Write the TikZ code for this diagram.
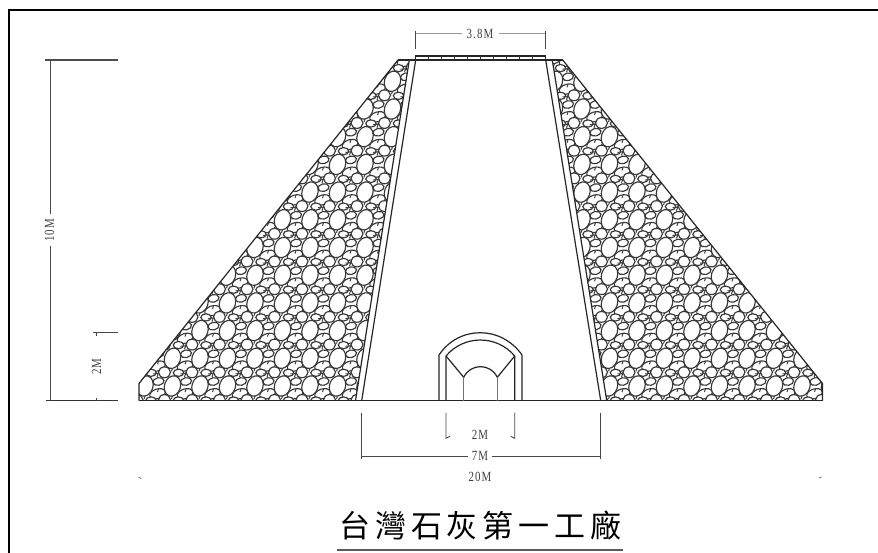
\documentclass[tikz,border=0pt]{standalone}
\usepackage{fontspec}
\newfontfamily\dimfont[FakeStretch=0.78,LetterSpace=8]{Liberation Serif}
\newfontfamily\cjkfont[LetterSpace=16]{Noto Sans CJK TC}
\tikzset{
  x=1pt,y=-1pt,
  wall/.style={line width=1.2pt,black!85},
  base/.style={line width=1.4pt,black!85},
  frameline/.style={line width=2pt,black},
  dimline/.style={line width=0.9pt,black!72},
  rock/.style={line width=1.15pt,black!78,fill=white},
  dimtext/.style={font=\dimfont\fontsize{14}{14}\selectfont,inner sep=0pt,text=black!75},
  pics/rocktile/.style={code={
    \draw[rock] (0,0) circle [x radius=8pt,y radius=10.4pt,rotate=-18];
    \draw[rock] (-8,14) circle [x radius=6pt,y radius=5.4pt];
    \draw[rock] (12.5,7.8) circle [x radius=8pt,y radius=4.8pt,rotate=18];
    \draw[rock] (13.5,-4.5) circle [x radius=5.6pt,y radius=3.8pt,rotate=12];
    \draw[rock] (6,14.5) circle [x radius=5.2pt,y radius=3.6pt];
    \draw[line width=1pt,black!75] (13.5,-13.5) -- (12,-9) (8,-12) -- (17,-13) (0,10) -- (-1,13) (-14,3) -- (-15,6);
  }}
}
\begin{document}
\begin{tikzpicture}
\useasboundingbox (0,0) rectangle (878,553);
\fill[white] (0,0) rectangle (878,553);
% frame
\draw[frameline] (8.5,553) -- (8.5,10.5) -- (878,10.5);
% rock fill, left
\begin{scope}
  \clip (139,400.5) -- (139,383.5) -- (398,60) -- (409.3,60) -- (355.5,400.5) -- cycle;
  \foreach \i in {0,...,25} \foreach \j in {-1,...,13}
    \pic at ({145+27.5*\i},{53.6+27.7*\j}) {rocktile};
\end{scope}
\draw[wall] (139,400.5) -- (139,383.5) -- (398,60);
% rock fill, right
\begin{scope}
  \clip (552.3,60) -- (562.7,60) -- (822.5,383.5) -- (822.5,400.5) -- (606.7,400.5) -- cycle;
  \foreach \i in {0,...,11} \foreach \j in {-1,...,13}
    \pic at ({527+27.5*\i},{53.6+27.7*\j}) {rocktile};
\end{scope}
\draw[wall] (562.7,60) -- (822.5,383.5) -- (822.5,400.5);
% core walls
\draw[wall] (409.3,60) -- (355.5,400.5);
\draw[wall] (415.7,60) -- (361.7,400.5);
\draw[wall] (552.3,60) -- (606.7,400.5);
\draw[wall] (545.7,60) -- (600.7,400.5);
% crest
\draw[base] (398,60) -- (562.7,60);
\draw[wall] (415.7,60) -- (415.7,56) -- (545.7,56) -- (545.7,60);
\foreach \k in {1,...,9}
  \draw[line width=0.8pt,black!80] ({415.7+13*\k},56) -- ({415.7+13*\k},60);
% base line
\draw[base] (139,400.5) -- (822.5,400.5);
% tunnel
\draw[wall] (439,400.5) -- (439,355) .. controls (458.7,325.3) and (501.3,325.3) .. (522,355) -- (522,400.5);
\draw[wall] (446,400.5) -- (446,356) .. controls (463.9,334.7) and (496.8,334.7) .. (514.7,356) -- (514.7,400.5);
\draw[wall] (446,356) -- (463.7,377.3) .. controls (470.4,363.1) and (490.6,363.1) .. (497.3,377.3) -- (514.7,356);
\draw[line width=1pt,black!55] (463.7,377.3) -- (463.7,400.5) (497.3,377.3) -- (497.3,400.5);
% dimension 3.8M
\node[dimtext] (topdim) at (480,33.5) {3.8M};
\coordinate (tl) at (415.7,33.5);
\coordinate (tr) at (545.3,33.5);
\draw[dimline] (415.7,30.7) -- (415.7,49.3) (545.3,30.7) -- (545.3,49.3);
\draw[line width=0.7pt,black!40] (tl) -- (462,33.5) (499,33.5) -- (tr);
% dimension 10M
\node[dimtext,rotate=90] (htext) at (49.5,230.5) {10M};
\draw[base,black!70] (45,60) -- (118,60);
\draw[line width=1pt,black!80] (45.5,400.5) -- (118,400.5);
\draw[dimline] (50,60) -- (50,214.5) (50,246.5) -- (50,400.5);
% dimension 2M at left
\node[dimtext,rotate=90] (lowtext) at (96.5,366.5) {2M};
\draw[dimline,line width=1pt] (93,332.7) -- (118,332.7);
\draw[dimline] (96.5,332.7) -- (96.5,336) (96.5,398) -- (96.5,400.5);
% dimension 2M below
\node[dimtext] (btext) at (480,435) {2M};
\draw[dimline] (446,412.7) -- (446,438.3) -- +(4,-2) (514.7,412.7) -- (514.7,438.3) -- +(-4,-2);
% dimension 7M
\node[dimtext] (stext) at (480,456) {7M};
\draw[dimline] (361,412.7) -- (361,459.3) (600,412.7) -- (600,459.3);
\draw[dimline] (361,456) -- (468,456) (491.7,456) -- (600,456);
% dimension 20M
\node[dimtext] (ttext) at (480,476.7) {20M};
% stray marks
\draw[line width=0.9pt,black!50] (138.5,477) -- (141,478.5);
\draw[line width=0.9pt,black!50] (819,478) -- (821.5,477);
% title
\node[font=\cjkfont\fontsize{31}{31}\selectfont,inner sep=0pt,anchor=center] (title) at (480.5,526) {台灣石灰第一工廠};
\draw[line width=1.6pt,black!65] (337,549.7) -- (623,549.7);
\end{tikzpicture}
\end{document}
